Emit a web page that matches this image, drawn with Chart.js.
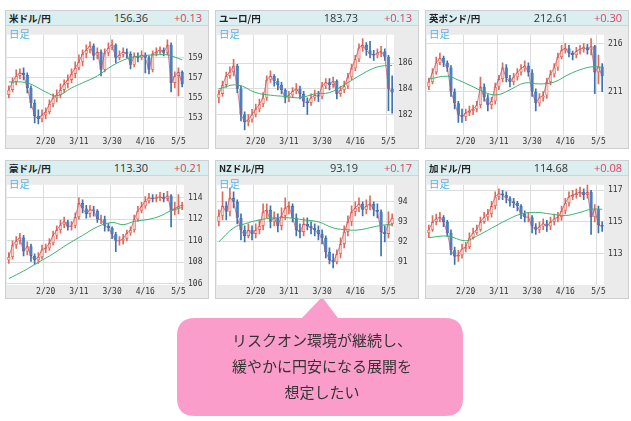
<!DOCTYPE html>
<html><head><meta charset="utf-8">
<script src="https://cdn.jsdelivr.net/npm/chart.js@4.4.1/dist/chart.umd.min.js"></script>
<style>
body{margin:0;background:#fff;width:631px;height:421px;position:relative;overflow:hidden;font-family:"Noto Sans CJK JP","Noto Sans",sans-serif}
.panel{position:absolute;width:202px;height:137px;background:#ebebeb;border:1px solid #cfcfcf;box-sizing:content-box}
.hdr{height:14px;background:#dbeff1;position:relative;border-bottom:1px solid #c8d8da}
.hdr .t{position:absolute;left:3px;top:0;font-size:9.5px;font-weight:bold;line-height:14px;color:#222}
.hdr .p{position:absolute;right:60px;top:0;font-size:11px;line-height:14px;color:#333;font-family:"Open Sans",sans-serif}
.hdr .c{position:absolute;right:6px;top:0;font-size:11px;line-height:14px;color:#e0405a;font-family:"Open Sans",sans-serif}
.lbl{position:absolute;left:3px;top:15px;font-size:10.5px;color:#55b6e6;z-index:2}
canvas{display:block}
#bubble{position:absolute;left:0;top:0}
</style></head><body>
<canvas id="bubble" width="631" height="421"></canvas>
<div id="wrap"></div>
<script>
const titles=["米ドル/円","ユーロ/円","英ポンド/円","豪ドル/円","NZドル/円","加ドル/円"];
const prices=["156.36","183.73","212.61","113.30","93.19","114.68"];
const changes=["+0.13","+0.13","+0.30","+0.21","+0.17","+0.08"];
const dateLabels={10:"2/20",19:"3/11",28:"3/30",37:"4/16",46:"5/5"};
const yTicks=[[153,155,157,159],[182,184,186],[211,216],[106,108,110,112,114],[91,92,93,94],[113,115,117]];
const yRange=[[151.3,161.3],[180.4,188.2],[206.5,216.9],[105.9,115.2],[89.85,94.85],[111.0,117.35]];
const firstOpen=[155.3,183.3,211.5,108.2,93.0,114.3];

const close1=[155.8,156.6,157.2,157.5,157.3,156.0,154.5,153.2,152.9,153.3,153.6,154.4,155.0,155.3,155.8,156.4,156.8,157.4,158.0,158.6,159.4,159.8,160.2,159.2,159.6,157.8,159.5,160.0,160.3,159.0,159.3,159.6,159.4,158.3,159.2,159.0,159.3,159.0,157.8,159.4,159.6,159.8,159.5,160.3,156.5,157.2,157.6,156.4];
const high1=[156.2,157.0,157.8,157.9,158.0,157.5,156.2,154.8,153.8,153.8,154.0,154.8,155.4,155.8,156.4,156.8,157.3,157.9,158.6,159.3,159.8,160.3,160.6,160.4,160.0,159.8,159.9,160.5,160.8,160.4,159.7,160.0,159.9,159.6,159.5,159.5,159.7,159.5,159.2,159.7,160.0,160.1,160.0,160.8,160.5,157.6,158.0,157.7];
const low1=[155.0,155.6,156.3,156.9,156.8,155.5,154.0,152.5,152.4,152.6,152.9,153.4,154.1,154.6,155.0,155.5,156.0,156.5,157.0,157.8,158.2,159.0,159.5,158.8,158.9,157.2,157.6,159.2,159.8,158.5,158.8,159.1,159.0,157.9,158.1,158.6,158.8,157.5,157.4,157.6,159.2,159.4,159.2,159.3,155.6,156.0,155.2,156.1];
const close2=[183.6,184.3,185.0,185.3,185.8,184.0,182.0,181.4,181.6,182.0,182.4,182.8,183.3,184.7,185.0,184.6,184.3,183.9,183.3,183.5,183.8,184.0,183.6,183.0,182.9,183.3,183.5,183.4,184.2,184.5,184.3,184.6,183.6,183.9,184.2,184.9,185.6,186.3,187.2,187.4,187.0,186.7,186.6,186.8,186.9,186.5,184.0,183.7];
const high2=[183.9,184.6,185.3,185.7,186.3,185.9,184.2,182.2,182.0,182.4,182.8,183.2,183.7,185.0,185.4,185.1,184.8,184.5,184.0,183.8,184.1,184.4,184.2,183.8,183.3,183.6,183.9,183.8,184.5,184.8,184.8,184.9,184.7,184.2,184.6,185.2,185.9,186.6,187.5,187.9,187.6,187.7,187.0,187.1,187.3,187.1,186.6,185.0];
const low2=[182.9,183.4,184.1,184.8,185.0,183.7,181.5,180.8,181.1,181.4,181.8,182.2,182.6,183.1,184.5,184.2,183.9,183.6,182.9,183.0,183.3,183.6,183.2,182.6,182.0,182.7,183.1,183.0,183.2,184.0,183.9,184.1,183.2,183.4,183.7,184.0,184.7,185.4,186.1,186.9,186.6,186.4,186.2,186.4,186.5,186.2,182.3,182.1];
const close3=[212.0,213.0,214.0,214.5,214.0,213.5,211.0,209.8,208.6,208.4,208.8,209.0,209.2,209.6,211.5,210.4,209.6,210.0,211.5,212.3,213.5,212.4,212.0,212.5,213.0,213.4,213.7,213.0,211.0,209.8,210.4,210.6,212.0,212.8,213.5,214.6,215.3,215.5,215.0,214.8,215.2,215.4,215.6,215.3,215.7,213.0,213.6,212.6];
const high3=[212.4,213.4,214.6,215.0,214.7,214.2,213.7,211.3,210.0,209.2,209.2,209.5,209.6,210.0,212.5,211.8,210.7,210.4,211.9,212.7,214.0,213.8,212.7,212.9,213.4,213.8,214.2,214.0,213.3,211.3,210.8,211.0,212.4,213.2,213.9,215.0,215.8,216.0,215.8,215.2,215.6,215.8,216.0,215.9,216.5,215.8,214.8,213.9];
const low3=[211.2,211.8,212.8,213.8,213.6,213.1,210.5,209.2,207.8,207.8,208.0,208.5,208.6,208.9,209.3,210.0,209.0,209.2,209.7,211.2,212.0,212.0,211.5,211.7,212.2,212.7,213.1,212.6,210.5,209.0,209.5,210.0,210.3,211.7,212.5,213.2,214.4,215.0,214.6,214.3,214.5,214.9,215.1,214.9,214.8,210.8,211.8,211.0];
const close4=[108.5,109.6,110.0,110.3,109.0,109.5,108.6,108.2,108.5,109.2,109.3,109.8,110.5,111.0,111.5,111.8,111.3,111.4,112.2,113.5,113.0,112.5,112.9,112.8,112.0,112.0,111.4,111.2,110.6,110.0,110.0,110.2,110.7,111.0,112.0,112.8,113.2,113.7,114.0,113.9,114.0,114.1,113.9,114.2,112.8,113.0,113.2,113.3];
const high4=[108.9,110.0,110.4,110.7,110.5,109.9,109.7,108.8,108.9,109.6,109.7,110.2,110.9,111.4,111.9,112.2,111.9,111.8,112.6,114.0,113.8,113.3,113.3,113.2,112.9,112.4,112.3,111.6,111.3,110.8,110.4,110.6,111.0,111.3,112.4,113.2,113.6,114.1,114.4,114.3,114.3,114.5,114.4,114.6,114.3,113.6,114.3,113.6];
const low4=[107.9,108.3,109.3,109.7,108.6,108.7,108.1,107.8,107.9,108.3,108.9,109.1,109.6,110.2,110.7,111.2,111.0,111.0,111.2,112.0,112.6,112.1,112.2,112.3,111.7,111.6,110.9,110.9,110.2,109.0,109.6,109.7,110.0,110.5,110.8,111.8,112.6,113.0,113.5,113.6,113.6,113.7,113.6,113.7,111.3,112.4,112.5,112.9];
const close5=[93.3,93.8,93.5,94.2,94.0,93.2,92.6,92.3,92.6,92.4,92.6,92.8,93.5,93.6,93.0,93.2,92.8,93.3,93.7,93.8,93.2,92.6,92.5,92.9,92.8,92.7,92.6,92.4,92.2,91.5,91.1,91.0,91.4,91.9,92.5,93.0,93.5,93.7,93.9,93.6,93.8,93.9,93.6,93.5,92.5,92.4,92.9,93.2];
const high5=[93.6,94.5,94.0,94.7,94.5,94.1,93.4,92.8,92.9,92.8,92.9,93.1,93.9,93.9,93.8,93.5,93.4,93.7,94.2,94.0,93.9,93.4,92.9,93.2,93.2,93.0,92.9,92.8,92.6,92.3,91.7,91.4,91.6,92.2,92.8,93.3,93.8,94.0,94.2,94.0,94.1,94.3,94.0,93.9,93.6,92.8,93.5,93.4];
const low5=[92.8,93.1,93.1,93.3,93.7,92.9,92.1,92.0,92.2,92.1,92.2,92.4,92.6,93.2,92.7,92.8,92.5,92.6,93.1,93.4,93.0,92.3,92.2,92.3,92.6,92.4,92.3,92.1,91.9,91.2,90.9,90.7,90.9,91.2,91.7,92.3,92.8,93.3,93.5,93.3,93.4,93.6,93.3,93.2,91.3,92.0,92.2,92.8];
const close6=[114.5,115.0,115.2,115.3,115.0,114.3,113.2,112.8,112.9,113.3,113.4,114.0,114.3,114.5,115.0,115.3,115.5,116.0,116.6,116.8,116.7,116.5,116.3,116.2,116.0,115.5,115.3,115.3,114.7,114.5,114.7,114.9,114.7,115.0,115.2,115.3,115.7,116.2,116.6,116.7,116.8,116.9,116.7,116.9,115.3,115.8,114.8,114.7];
const high6=[114.8,115.4,115.5,115.6,115.4,115.1,114.5,113.4,113.2,113.6,113.7,114.3,114.6,114.8,115.3,115.6,115.8,116.3,116.9,117.1,117.0,116.9,116.6,116.5,116.3,116.1,115.7,115.6,115.4,114.9,115.0,115.2,115.1,115.3,115.5,115.6,116.0,116.5,116.9,117.0,117.1,117.2,117.1,117.4,117.0,116.1,116.0,115.0];
const low6=[114.0,114.4,114.8,115.0,114.7,114.1,112.9,112.3,112.5,112.7,113.1,113.3,113.9,114.2,114.4,114.9,115.1,115.3,115.8,116.4,116.4,116.2,116.0,115.9,115.7,115.2,115.0,115.0,114.3,114.2,114.3,114.5,114.4,114.5,114.8,115.0,115.1,115.5,116.0,116.4,116.5,116.6,116.4,116.5,114.2,115.0,114.3,114.4];
const ma1=[[0,156.6],[5,156.5],[10,155.6],[13,155.2],[17,156.0],[20,156.5],[24,157.2],[28,158.2],[32,158.9],[36,159.2],[40,159.3],[43,159.3],[47,158.8]];
const ma2=[[0,184.0],[5,184.3],[10,183.7],[14,183.5],[18,183.4],[22,183.3],[26,183.6],[30,183.7],[34,184.3],[38,185.0],[42,185.6],[45,185.8],[47,185.8]];
const ma3=[[0,212.3],[5,212.6],[8,212.2],[12,211.5],[16,210.8],[19,210.7],[22,211.2],[26,211.9],[30,211.8],[34,212.0],[38,212.8],[42,213.4],[45,213.6],[47,213.5]];
const ma4=[[0,106.5],[4,107.2],[8,108.0],[12,108.8],[16,109.7],[20,110.5],[24,111.3],[28,111.7],[31,111.5],[34,111.8],[38,112.0],[41,112.3],[44,112.8],[47,113.1]];
const ma5=[[0,92.0],[4,92.7],[7,92.9],[11,93.1],[15,93.2],[19,93.2],[23,93.1],[27,93.0],[31,92.7],[35,92.6],[38,92.6],[42,92.75],[45,92.85],[47,92.85]];
const ma6=[[0,114.0],[5,114.1],[10,113.8],[13,114.1],[17,114.6],[21,115.1],[25,115.5],[29,115.6],[33,115.5],[37,115.4],[41,115.6],[44,115.8],[47,115.8]];

const closes=[close1,close2,close3,close4,close5,close6];
const highs=[high1,high2,high3,high4,high5,high6];
const lows=[low1,low2,low3,low4,low5,low6];
const mas=[ma1,ma2,ma3,ma4,ma5,ma6];
const lefts=[5,215,425],tops=[10,160];

const whitePlot={id:'wp',beforeDraw(c){const a=c.chartArea,x=c.ctx;x.save();x.fillStyle='#fff';x.fillRect(a.left,a.top,a.width,a.height);x.restore();}};

for(let p=0;p<6;p++){
  const d=document.createElement('div');d.className='panel';
  d.style.left=lefts[p%3]+'px';d.style.top=tops[Math.floor(p/3)]+'px';
  d.innerHTML=`<div class="hdr"><span class="t">${titles[p]}</span><span class="p">${prices[p]}</span><span class="c">${changes[p]}</span></div><div class="lbl">日足</div><canvas width="202" height="122"></canvas>`;
  document.getElementById('wrap').appendChild(d);
  const cl=closes[p],n=cl.length;
  const opens=cl.map((v,i)=>i?cl[i-1]:firstOpen[p]);
  const up=cl.map((v,i)=>v>=opens[i]);
  const labels=cl.map((v,i)=>i);
  const ma=new Array(n).fill(null);mas[p].forEach(([i,v])=>ma[i]=v);
  new Chart(d.querySelector('canvas'),{
    type:'bar',
    data:{labels,datasets:[
      {type:'line',data:ma,borderColor:'#3cb46e',borderWidth:1,pointRadius:0,spanGaps:true,tension:0.4,order:0},
      {type:'line',data:cl,borderColor:'#b84a6a',borderWidth:0.7,pointRadius:0,order:1},
      {data:cl.map((v,i)=>[opens[i],v]),backgroundColor:up.map(u=>u?'#f9cfc6':'#4680c4'),borderColor:up.map(u=>u?'#e26a58':'#3a72b6'),borderWidth:0.8,borderSkipped:false,barPercentage:0.9,categoryPercentage:1,grouped:false,order:2},
      {data:cl.map((v,i)=>[lows[p][i],highs[p][i]]),backgroundColor:up.map(u=>u?'#e26a58':'#3a72b6'),barThickness:1,grouped:false,order:3}
    ]},
    options:{animation:false,responsive:false,devicePixelRatio:1,
      layout:{padding:{left:1,top:1,right:0,bottom:0}},
      plugins:{legend:{display:false},tooltip:{enabled:false}},
      scales:{
        x:{grid:{color:c=>dateLabels[c.index]!==undefined?'#dcdcdc':'rgba(0,0,0,0)',drawTicks:false},border:{display:false},
          ticks:{autoSkip:false,maxRotation:0,padding:2,font:{size:8,family:'DejaVu Sans Mono'},color:'#333',callback:(v,i)=>dateLabels[i]||''},
          afterFit(s){s.height=13;}},
        y:{position:'right',min:yRange[p][0],max:yRange[p][1],grid:{color:'#dcdcdc',drawTicks:false},border:{display:false},
          afterBuildTicks(s){s.ticks=yTicks[p].map(v=>({value:v}));},
          ticks:{padding:4,font:{size:8,family:'DejaVu Sans Mono'},color:'#333'},
          afterFit(s){s.width=24;}}
      }},
    plugins:[whitePlot]
  });
}

const b=document.getElementById('bubble').getContext('2d');
b.fillStyle='#fb9dcb';
b.beginPath();
const x0=177,y0=318,x1=463,y1=416,r=18;
b.moveTo(x0+r,y0);b.lineTo(302,y0);b.lineTo(322,297);b.lineTo(338,y0);b.lineTo(x1-r,y0);
b.quadraticCurveTo(x1,y0,x1,y0+r);b.lineTo(x1,y1-r);b.quadraticCurveTo(x1,y1,x1-r,y1);
b.lineTo(x0+r,y1);b.quadraticCurveTo(x0,y1,x0,y1-r);b.lineTo(x0,y0+r);b.quadraticCurveTo(x0,y0,x0+r,y0);
b.fill();
b.fillStyle='#333';b.font='15px "Noto Sans CJK JP"';b.textAlign='center';b.textBaseline='middle';
["リスクオン環境が継続し、","緩やかに円安になる展開を","想定したい"].forEach((t,i)=>b.fillText(t,322,340+i*26));
</script>
</body></html>
